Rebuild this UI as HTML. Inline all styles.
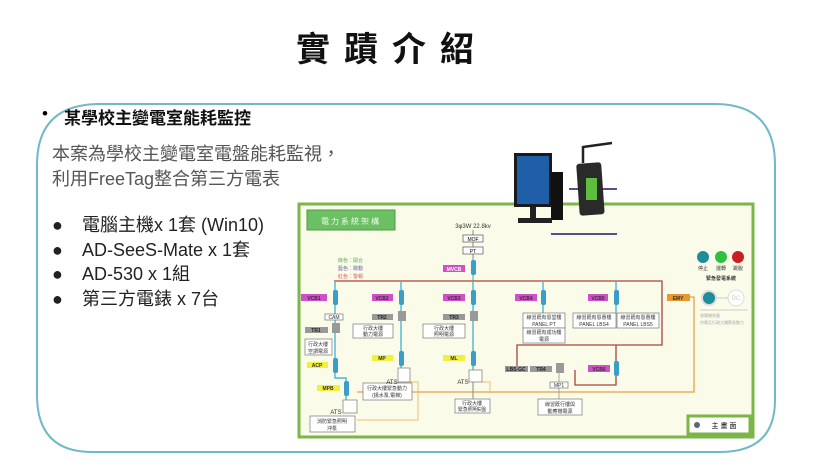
<!DOCTYPE html>
<html><head><meta charset="utf-8"><style>
html,body{margin:0;padding:0;background:#fff;}
body{width:826px;height:469px;position:relative;overflow:hidden;font-family:"Liberation Sans","Noto Sans CJK TC",sans-serif;}
.t{position:absolute;white-space:nowrap;}
</style></head><body>
<svg width="826" height="469" style="position:absolute;left:0;top:0" font-family="Liberation Sans, Noto Sans CJK TC, sans-serif">
<!-- frame -->
<path d="M37,395 L37,165 Q37,104 100,104 L715,104 Q775,104 775,165 L775,400 Q775,452 720,452 L92,452 Q37,452 37,395 Z" fill="none" stroke="#72b8c8" stroke-width="2"/>
<!-- panel -->
<rect x="299" y="204" width="454" height="233" fill="#fbfbea" stroke="#7ab648" stroke-width="3"/>
<rect x="307" y="210" width="88" height="20" fill="#6cc064" stroke="#4e9a46"/>
<text x="351" y="224" font-size="8" fill="#eafbe8" text-anchor="middle" letter-spacing="2">電力系統架構</text>
<text x="473" y="228" font-size="6" fill="#333" text-anchor="middle">3φ3W 22.8kv</text>
<line x1="473" y1="230" x2="473" y2="281" stroke="#888" stroke-width="1"/>
<rect x="463" y="235" width="20" height="7" fill="#fff" stroke="#555" stroke-width=".7"/><text x="473" y="241" font-size="5" text-anchor="middle">MOF</text>
<rect x="463" y="247" width="20" height="7" fill="#fff" stroke="#555" stroke-width=".7"/><text x="473" y="253" font-size="5" text-anchor="middle">PT</text>
<text x="338" y="262" font-size="5" fill="#6a6">綠色：開合</text>
<text x="338" y="270" font-size="5" fill="#669">藍色：啟動</text>
<text x="338" y="278" font-size="5" fill="#c66">紅色：警報</text>
<!-- red bus -->
<path d="M334,281 H662 V345 H517 V366" fill="none" stroke="#a5453c" stroke-width="1.3"/>
<path d="M616,345 V372 M616,372 V385 H575 V370" fill="none" stroke="#a5453c" stroke-width="1.3"/>
<!-- cyan verticals -->
<g stroke="#48b8d8" stroke-width="1.4" fill="none">
<path d="M335,281 V362 M401,281 V372 M473,281 V370 M543,281 V313 M616,281 V313"/>
<path d="M335,370 V378 H346 V400"/>
</g>
<!-- orange line -->
<path d="M357,392 H694 V297 H690" fill="none" stroke="#e8a040" stroke-width="1.3"/>
<path d="M410,382 H418 V420 H357 M482,382 H490 V392" fill="none" stroke="#e8c070" stroke-width="1"/>
<!-- breakers -->
<g fill="#3a9ec8">
<rect x="471" y="260" width="5" height="15" rx="2"/>
<rect x="333" y="290" width="5" height="15" rx="2"/><rect x="399" y="290" width="5" height="15" rx="2"/><rect x="471" y="290" width="5" height="15" rx="2"/><rect x="541" y="290" width="5" height="15" rx="2"/><rect x="614" y="290" width="5" height="15" rx="2"/>
<rect x="333" y="358" width="5" height="15" rx="2"/><rect x="399" y="351" width="5" height="15" rx="2"/><rect x="471" y="351" width="5" height="15" rx="2"/><rect x="344" y="381" width="5" height="15" rx="2"/><rect x="614" y="361" width="5" height="15" rx="2"/>
</g>
<g fill="#999"><rect x="332" y="323" width="8" height="10"/><rect x="398" y="311" width="8" height="10"/><rect x="470" y="311" width="8" height="10"/><rect x="556" y="363" width="8" height="10"/></g>
<!-- labels -->
<g font-size="5" text-anchor="middle" font-weight="bold">
<rect x="443" y="265" width="22" height="7" fill="#d050c8"/><text x="454" y="271" fill="#fff">MVCB</text>
<rect x="301" y="294" width="26" height="7" fill="#d050c8"/><text x="314" y="300" fill="#333">VCB1</text>
<rect x="372" y="294" width="21" height="7" fill="#d050c8"/><text x="382" y="300" fill="#333">VCB2</text>
<rect x="443" y="294" width="22" height="7" fill="#d050c8"/><text x="454" y="300" fill="#333">VCB3</text>
<rect x="515" y="294" width="22" height="7" fill="#d050c8"/><text x="526" y="300" fill="#333">VCB4</text>
<rect x="588" y="294" width="20" height="7" fill="#d050c8"/><text x="598" y="300" fill="#333">VCB5</text>
<rect x="588" y="365" width="22" height="7" fill="#d050c8"/><text x="599" y="371" fill="#333">VCB6</text>
<rect x="667" y="294" width="23" height="7" fill="#e89830"/><text x="678" y="300" fill="#333">EMY</text>
<rect x="307" y="362" width="21" height="6" fill="#f0f040"/><text x="317" y="367" fill="#333">ACP</text>
<rect x="372" y="355" width="21" height="6" fill="#f0f040"/><text x="382" y="360" fill="#333">MP</text>
<rect x="443" y="355" width="22" height="6" fill="#f0f040"/><text x="454" y="360" fill="#333">ML</text>
<rect x="317" y="385" width="23" height="6" fill="#f0f040"/><text x="328" y="390" fill="#333">MPB</text>
<rect x="305" y="327" width="23" height="6" fill="#999"/><text x="316" y="332" fill="#222">TR1</text>
<rect x="372" y="314" width="21" height="6" fill="#999"/><text x="382" y="319" fill="#222">TR2</text>
<rect x="443" y="314" width="22" height="6" fill="#999"/><text x="454" y="319" fill="#222">TR3</text>
<rect x="505" y="366" width="23" height="6" fill="#999"/><text x="516" y="371" fill="#222">LBS-GC</text>
<rect x="530" y="366" width="22" height="6" fill="#999"/><text x="541" y="371" fill="#222">TR4</text>
</g>
<g font-size="5" text-anchor="middle" fill="#333" stroke-width=".7">
<rect x="325" y="314" width="18" height="6" fill="#fff" stroke="#777"/><text x="334" y="319">CAM</text>
<rect x="305" y="339" width="27" height="16" fill="#fff" stroke="#777"/><text x="318" y="346">行政大樓</text><text x="318" y="353">空調電源</text>
<rect x="353" y="324" width="40" height="14" fill="#fff" stroke="#777"/><text x="373" y="330">行政大樓</text><text x="373" y="336">動力電源</text>
<rect x="423" y="324" width="42" height="14" fill="#fff" stroke="#777"/><text x="444" y="330">行政大樓</text><text x="444" y="336">照明電源</text>
<rect x="523" y="313" width="42" height="15" fill="#fff" stroke="#777"/><text x="544" y="319">線習既有恩堂樓</text><text x="544" y="326">PANEL PT</text>
<rect x="523" y="328" width="42" height="15" fill="#fff" stroke="#777"/><text x="544" y="334">線習既有成功樓</text><text x="544" y="341">電源</text>
<rect x="573" y="313" width="43" height="15" fill="#fff" stroke="#777"/><text x="594" y="319">線習既有恩惠樓</text><text x="594" y="326">PANEL LBS4</text>
<rect x="617" y="313" width="42" height="15" fill="#fff" stroke="#777"/><text x="638" y="319">線習既有恩惠樓</text><text x="638" y="326">PANEL LBS5</text>
<rect x="550" y="382" width="18" height="6" fill="#fff" stroke="#777"/><text x="559" y="387">MP1</text>
<line x1="559" y1="373" x2="559" y2="382" stroke="#888"/><line x1="559" y1="388" x2="559" y2="399" stroke="#888"/>
<rect x="538" y="399" width="44" height="16" fill="#fff" stroke="#777"/><text x="560" y="406">線習既行樓與</text><text x="560" y="413">動應機電源</text>
<rect x="363" y="383" width="49" height="17" fill="#fff" stroke="#777"/><text x="387" y="390">行政大樓緊急動力</text><text x="387" y="397">(揚水泵,電梯)</text>
<rect x="455" y="399" width="35" height="14" fill="#fff" stroke="#777"/><text x="472" y="405">行政大樓</text><text x="472" y="411">緊急照明E盤</text>
<rect x="310" y="416" width="45" height="16" fill="#fff" stroke="#777"/><text x="332" y="423">消防緊急照明</text><text x="332" y="430">沖泵</text>
<rect x="398" y="368" width="12" height="14" fill="#fff" stroke="#777"/><text x="392" y="384" font-size="6">ATS</text>
<rect x="469" y="370" width="13" height="12" fill="#fff" stroke="#777"/><text x="463" y="384" font-size="6">ATS</text>
<rect x="343" y="400" width="14" height="13" fill="#fff" stroke="#777"/><text x="336" y="414" font-size="6">ATS</text>
</g>
<line x1="473" y1="382" x2="473" y2="399" stroke="#888"/>
<!-- generator area -->
<circle cx="703" cy="257" r="6" fill="#1e8c9a"/><circle cx="721" cy="257" r="6" fill="#30c040"/><circle cx="738" cy="257" r="6" fill="#c82020"/>
<g font-size="5" fill="#333" text-anchor="middle"><text x="703" y="270">停止</text><text x="721" y="270">運轉</text><text x="738" y="270">跳脫</text>
<text x="721" y="280" font-weight="bold">緊急發電系統</text></g>
<circle cx="709" cy="298" r="7" fill="#1e8c9a" stroke="#ddd" stroke-width="2"/>
<circle cx="736" cy="298" r="8" fill="#fff" stroke="#ddd"/><text x="736" y="300" font-size="6" fill="#ccc" text-anchor="middle">DC</text>
<line x1="717" y1="298" x2="728" y2="298" stroke="#ccc"/>
<line x1="700" y1="310" x2="748" y2="310" stroke="#ccc"/>
<text x="700" y="317" font-size="4" fill="#aaa">發電機負載</text><text x="700" y="324" font-size="4" fill="#aaa">供電至行政大樓緊急動力</text>
<rect x="688" y="416" width="62" height="18" fill="#fff" stroke="#7ab648" stroke-width="3"/>
<circle cx="697" cy="425" r="3" fill="#666"/><text x="725" y="428" font-size="7" text-anchor="middle" letter-spacing="2">主畫面</text>
<!-- computer & device -->
<line x1="569" y1="189" x2="617" y2="189" stroke="#5b4c8a" stroke-width="2"/>
<line x1="551" y1="234" x2="617" y2="234" stroke="#5b4c8a" stroke-width="2"/>
<rect x="514" y="153" width="38" height="54" fill="#1a1a1a"/>
<rect x="517" y="156" width="32" height="48" fill="#1f5fa8"/>
<rect x="530" y="207" width="6" height="12" fill="#222"/><rect x="518" y="218" width="34" height="5" fill="#222"/>
<rect x="551" y="172" width="12" height="48" fill="#111"/>
<rect x="578" y="163" width="25" height="52" rx="3" fill="#2a2a2a" transform="rotate(-4 590 190)"/>
<rect x="586" y="178" width="11" height="22" fill="#5cbe3c"/>
<line x1="583" y1="163" x2="583" y2="146" stroke="#222" stroke-width="2.5"/><line x1="583" y1="147" x2="612" y2="143" stroke="#222" stroke-width="2.5"/>
</svg>
<div class="t" style="left:296px;top:22px;font-size:34px;font-weight:bold;letter-spacing:14px;font-family:'Noto Sans CJK TC',sans-serif;color:#111;">實蹟介紹</div>
<div class="t" style="left:42px;top:104px;font-size:17px;">•</div>
<div class="t" style="left:64px;top:104px;font-size:17px;font-weight:bold;color:#111;">某學校主變電室能耗監控</div>
<div class="t" style="left:52px;top:142px;font-size:18px;line-height:25px;color:#555;">本案為學校主變電室電盤能耗監視，<br>利用FreeTag整合第三方電表</div>
<div class="t" style="left:52px;top:213px;font-size:18px;line-height:24.5px;color:#222;">
<div><span style="display:inline-block;width:30px;">●</span>電腦主機x 1套 (Win10)</div>
<div><span style="display:inline-block;width:30px;">●</span>AD-SeeS-Mate x 1套</div>
<div><span style="display:inline-block;width:30px;">●</span>AD-530 x 1組</div>
<div><span style="display:inline-block;width:30px;">●</span>第三方電錶 x 7台</div>
</div>
</body></html>
